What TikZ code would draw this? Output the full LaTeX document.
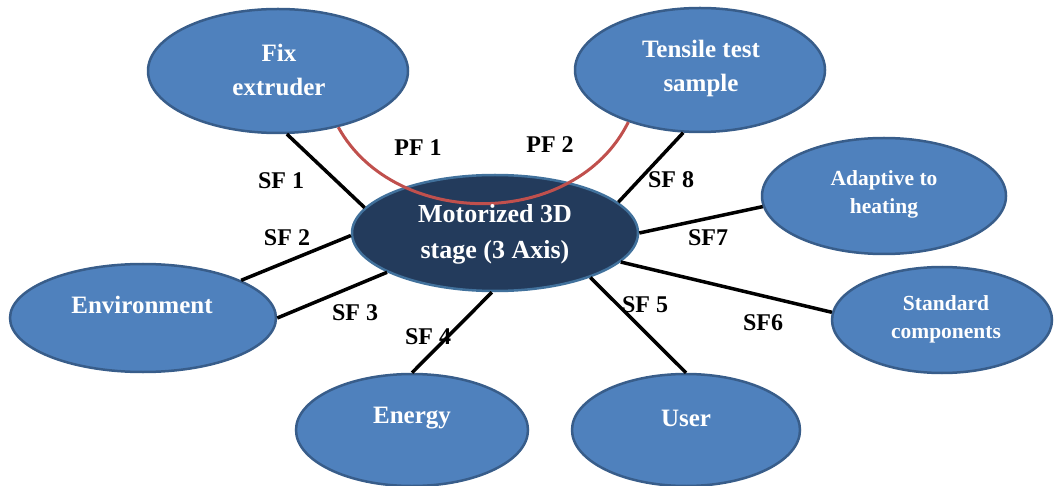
\documentclass[tikz,border=0pt]{standalone}
\usepackage{fontspec}
\setmainfont{Liberation Serif}
\usetikzlibrary{shapes.geometric}
\definecolor{nodeblue}{HTML}{4F81BD}
\definecolor{nodeedge}{HTML}{385D8A}
\definecolor{hubfill}{HTML}{233B5C}
\definecolor{hubedge}{HTML}{41719C}
\definecolor{pfred}{HTML}{C0504D}
\begin{document}
\begin{tikzpicture}[x=1pt,y=-1pt,
  oval/.style={ellipse, draw=nodeedge, line width=2.5pt, fill=nodeblue, inner sep=0pt},
  hub/.style={ellipse, draw=hubedge, line width=2.5pt, fill=hubfill, inner sep=0pt},
  ovaltext/.style={text=white, font=\bfseries\fontsize{25}{34}\selectfont, align=center, inner sep=0pt},
  hubtext/.style={text=white, font=\bfseries\fontsize{26}{36}\selectfont, align=center, inner sep=0pt},
  smalltext/.style={text=white, font=\bfseries\fontsize{21.5}{28}\selectfont, align=center, inner sep=0pt},
  sflabel/.style={text=black, font=\bfseries\fontsize{24}{28}\selectfont, inner sep=0pt},
  sfline/.style={draw=black, line width=3.5pt},
  pfline/.style={draw=pfred, line width=3pt}
]
\useasboundingbox (0,0) rectangle (1054,486);

% ellipses
\node[oval, minimum width=260pt, minimum height=124pt] (fix) at (278,71) {};
\node[oval, minimum width=250pt, minimum height=124pt] (ten) at (700,70) {};
\node[hub,  minimum width=286pt, minimum height=116pt] (hub) at (495,233) {};
\node[oval, minimum width=244pt, minimum height=116pt] (ada) at (884,196) {};
\node[oval, minimum width=220pt, minimum height=106pt] (std) at (942,320) {};
\node[oval, minimum width=266pt, minimum height=108pt] (env) at (143,318) {};
\node[oval, minimum width=232pt, minimum height=112pt] (ene) at (412,430) {};
\node[oval, minimum width=228pt, minimum height=112pt] (usr) at (686,430) {};

% connectors
\draw[sfline] (fix.-82) -- (hub.169.5);
\draw[sfline] (env.21.5) -- (hub.181.2);
\draw[sfline] (env.-0.9) -- (hub.200.3);
\draw[sfline] (ene.90) -- (hub.267.3);
\draw[sfline] (usr.90) -- (hub.-25.4);
\draw[sfline] (std.176.8) -- (hub.-13.7);
\draw[sfline] (ada.185.7) -- (hub.0.4);
\draw[sfline] (ten.255.5) -- (hub.14.2);
\draw[pfline] (fix.-43.4) .. controls (395,230) and (575,230) .. (ten.216);

% texts
\node[ovaltext] (fixt) at (279,70) {Fix\\extruder};
\node[ovaltext] (tent) at (701,68) {Tensile test\\sample};
\node[hubtext] (hubt) at (495,234) {Motorized 3D\\stage (3 Axis)};
\node[smalltext] (adat) at (884,194) {Adaptive to\\heating};
\node[smalltext] (stdt) at (946,319) {Standard\\components};
\node[ovaltext] (envt) at (142,305) {Environment};
\node[ovaltext] (enet) at (412,418) {Energy};
\node[ovaltext] (usrt) at (686,418) {User};

% labels
\node[sflabel] (l1) at (281,181) {SF 1};
\node[sflabel] (l2) at (287,238) {SF 2};
\node[sflabel] (l3) at (355,313) {SF 3};
\node[sflabel] (l4) at (428,337) {SF 4};
\node[sflabel] (l5) at (645,305) {SF 5};
\node[sflabel] (l6) at (763,323) {SF6};
\node[sflabel] (l7) at (708,238) {SF7};
\node[sflabel] (l8) at (671,180) {SF 8};
\node[sflabel] (p1) at (418,148) {PF 1};
\node[sflabel] (p2) at (550,145) {PF 2};
\end{tikzpicture}
\end{document}
